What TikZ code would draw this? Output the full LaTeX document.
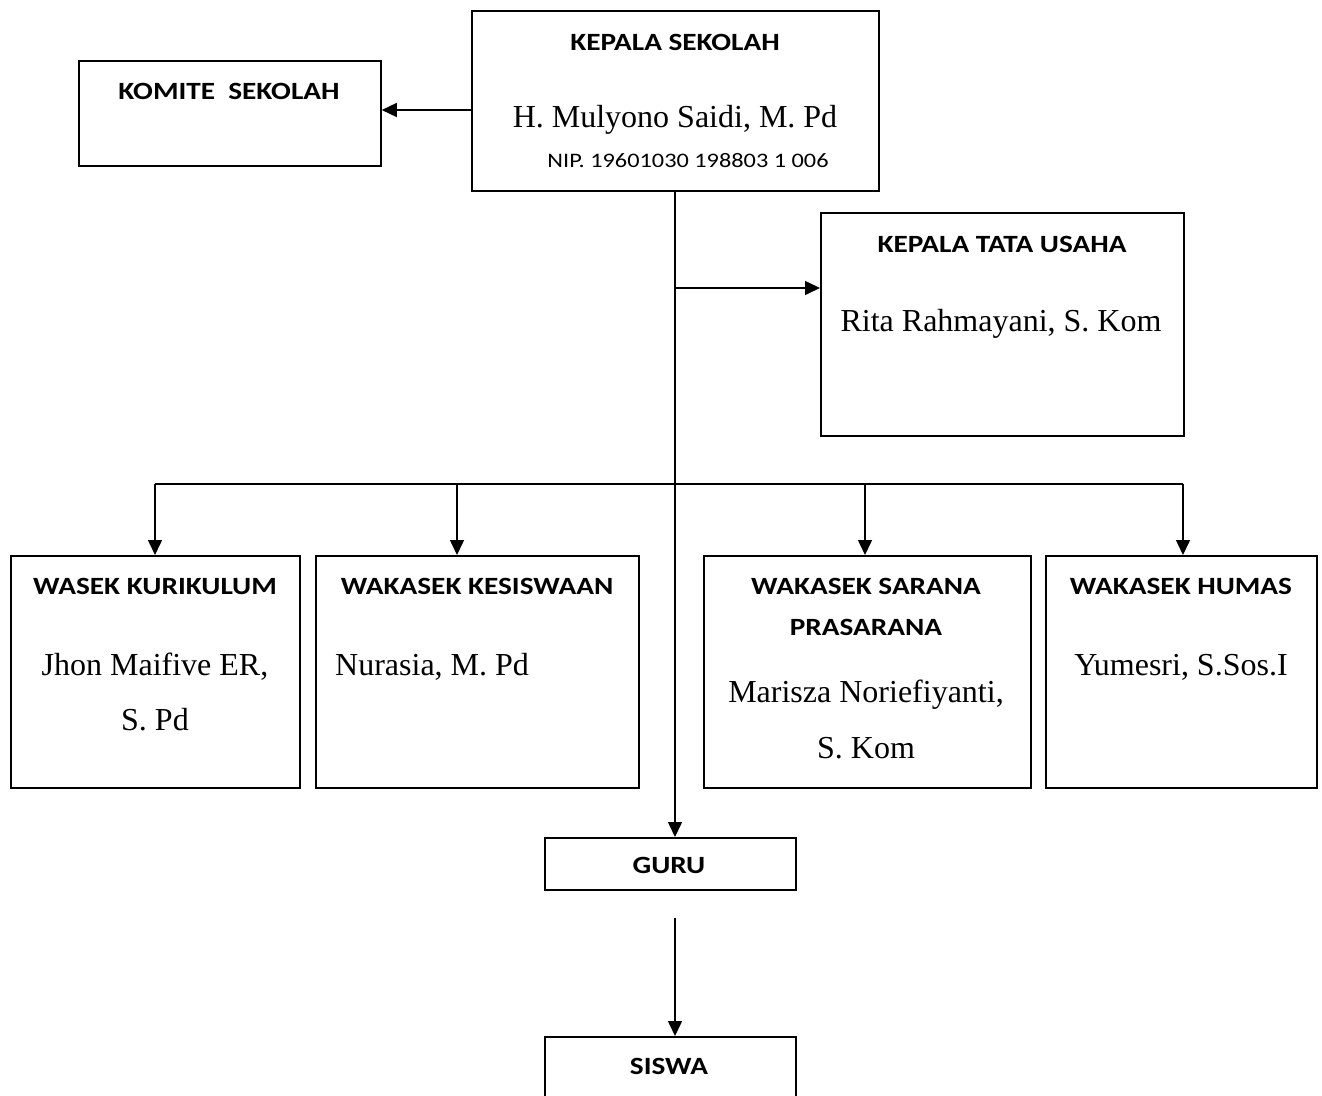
\documentclass[tikz,border=0pt]{standalone}
\usepackage{fontspec}
\setmainfont{Liberation Serif}
\newfontfamily\carl[FakeStretch=1.18]{Carlito}
\usetikzlibrary{arrows.meta}
\begin{document}
\begin{tikzpicture}[x=1pt,y=-1pt,
  box/.style={draw, line width=1.8pt, anchor=north west, inner sep=0pt},
  ttl/.style={font=\carl\bfseries\fontsize{24.8}{28}\selectfont, inner sep=0pt},
  nm/.style={font=\fontsize{32}{38}\selectfont, inner sep=0pt},
  nip/.style={font=\carl\fontsize{20.6}{24}\selectfont, inner sep=0pt},
  conn/.style={line width=1.5pt, -{Triangle[length=15pt,width=14pt]}},
  plain/.style={line width=1.5pt}]
\path[use as bounding box, clip] (0,0) rectangle (1322,1095);
\fill[white] (0,0) rectangle (1322,1095);
% boxes
\node[box, minimum width=407pt, minimum height=180pt] (kepala) at (471,10) {};
\node[box, minimum width=302pt, minimum height=105pt] (komite) at (78,60) {};
\node[box, minimum width=363pt, minimum height=223pt] (ktu) at (820,212) {};
\node[box, minimum width=289pt, minimum height=232pt] (kur) at (10,555) {};
\node[box, minimum width=323pt, minimum height=232pt] (kes) at (315,555) {};
\node[box, minimum width=327pt, minimum height=232pt] (sar) at (703,555) {};
\node[box, minimum width=271pt, minimum height=232pt] (hum) at (1045,555) {};
\node[box, minimum width=251pt, minimum height=52pt] (guru) at (544,837) {};
\node[box, minimum width=251pt, minimum height=90pt] (siswa) at (544,1036) {};
% texts
\node[ttl] (tkep) at (675,42) {KEPALA SEKOLAH};
\node[nm] (nkep) at (675,120) {H. Mulyono Saidi, M. Pd};
\node[nip] (nipkep) at (688,161) {NIP. 19601030 198803 1 006};
\node[ttl] (tkom) at (229,91) {KOMITE\ \ SEKOLAH};
\node[ttl] (tktu) at (1002,244) {KEPALA TATA USAHA};
\node[nm] (nktu) at (1001,324) {Rita Rahmayani, S. Kom};
\node[ttl] (tkur) at (155,586) {WASEK KURIKULUM};
\node[nm] (nkur1) at (155,667) {Jhon Maifive ER,};
\node[nm] (nkur2) at (155,720) {S. Pd};
\node[ttl] (tkes) at (477,586) {WAKASEK KESISWAAN};
\node[nm, anchor=west] (nkes) at (335,667) {Nurasia, M. Pd};
\node[ttl] (tsar1) at (866,586) {WAKASEK SARANA};
\node[ttl] (tsar2) at (866,627) {PRASARANA};
\node[nm] (nsar1) at (866,695) {Marisza Noriefiyanti,};
\node[nm] (nsar2) at (866,748) {S. Kom};
\node[ttl] (thum) at (1181,586) {WAKASEK HUMAS};
\node[nm] (nhum) at (1181,667) {Yumesri, S.Sos.I};
\node[ttl] (tguru) at (669,865) {GURU};
\node[ttl] (tsis) at (669,1066) {SISWA};
% connectors
\coordinate (trunk) at (675,190);
\coordinate (jktu) at (675,288);
\coordinate (gout) at (675,918);
\draw[conn] (kepala.west |- 0,110) -- (komite.east |- 0,110);
\draw[conn] (trunk) -- (guru.north -| trunk);
\draw[conn] (jktu) -- (ktu.west |- jktu);
\draw[plain] (155,484) -- (1183,484);
\draw[conn] (155,484) -- (kur.north -| 155,0);
\draw[conn] (457,484) -- (kes.north -| 457,0);
\draw[conn] (865,484) -- (sar.north -| 865,0);
\draw[conn] (1183,484) -- (hum.north -| 1183,0);
\draw[conn] (gout) -- (siswa.north -| gout);
\end{tikzpicture}
\end{document}
